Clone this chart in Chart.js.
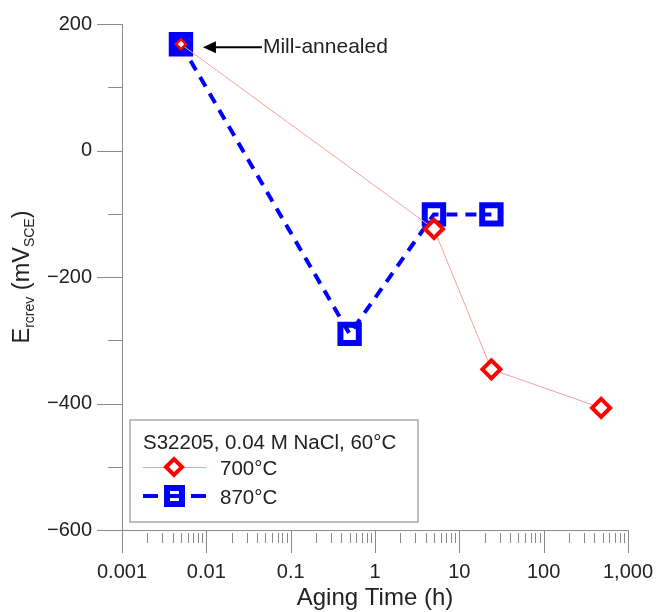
<!DOCTYPE html>
<html>
<head>
<meta charset="utf-8">
<script src="https://cdn.jsdelivr.net/npm/chart.js@4.4.1/dist/chart.umd.min.js"></script>
<style>
  html, body { margin: 0; padding: 0; background: #fff; }
  #wrap { width: 656px; height: 612px; }
</style>
</head>
<body>
<div id="wrap"><canvas id="chart" width="656" height="612"></canvas></div>
<script>
// --- data ---
const agingTime700 = [0.005, 5, 24, 480];
const ercrev700 = [168, -124, -346, -407];
const agingTime870 = [0.005, 0.5, 5, 24];
const ercrev870 = [168, -290, -101, -101];

const xTickValues = [0.001, 0.01, 0.1, 1, 10, 100, 1000];
const xTickLabels = ['0.001', '0.01', '0.1', '1', '10', '100', '1,000'];
const yTickValues = [-600, -400, -200, 0, 200];
const yTickLabels = ['\u2212600', '\u2212400', '\u2212200', '0', '200'];

const seriesNames = ['700°C', '870°C'];
const legendTitle = 'S32205, 0.04 M NaCl, 60°C';
const annotationText = 'Mill-annealed';
const xTitle = 'Aging Time (h)';

const FONT = '"Liberation Sans", Arial, Helvetica, sans-serif';
const TEXT = '#222';
const AXIS = '#8a8a8a';
const RED = '#ff0000';
const PINK = '#ff9c9c';
const BLUE = '#0000ff';

function toPoints(xs, ys) {
    return xs.map((x, i) => ({ x: x, y: ys[i] }));
}

// axes, tick marks, tick labels and titles
const axesPlugin = {
    id: 'axesPlugin',
    beforeDatasetsDraw(chart) {
        const ctx = chart.ctx;
        const xs = chart.scales.x;
        const ys = chart.scales.y;
        const area = chart.chartArea;
        ctx.save();
        ctx.strokeStyle = AXIS;
        ctx.lineWidth = 1;

        // axis lines
        ctx.beginPath();
        ctx.moveTo(area.left + 0.5, area.top);
        ctx.lineTo(area.left + 0.5, area.bottom);
        ctx.moveTo(area.left, area.bottom + 0.5);
        ctx.lineTo(area.right, area.bottom + 0.5);
        ctx.stroke();

        // y ticks
        ctx.beginPath();
        for (let v = -600; v <= 200; v += 100) {
            const py = Math.round(ys.getPixelForValue(v)) + 0.5;
            const len = (v % 200 === 0) ? 25 : 14;
            ctx.moveTo(area.left - len, py);
            ctx.lineTo(area.left, py);
        }
        // x ticks
        for (let d = 0; d < xTickValues.length; d++) {
            const dec = xTickValues[d];
            const px = Math.round(xs.getPixelForValue(dec)) + 0.5;
            ctx.moveTo(px, area.bottom);
            ctx.lineTo(px, area.bottom + 23);
            if (d < xTickValues.length - 1) {
                for (let k = 2; k <= 9; k++) {
                    const mx = Math.round(xs.getPixelForValue(k * dec)) + 0.5;
                    ctx.moveTo(mx, area.bottom + 3);
                    ctx.lineTo(mx, area.bottom + 13);
                }
            }
        }
        ctx.stroke();

        // tick labels
        ctx.fillStyle = TEXT;
        ctx.font = '20px ' + FONT;
        ctx.textAlign = 'right';
        ctx.textBaseline = 'middle';
        yTickValues.forEach((v, i) => {
            ctx.fillText(yTickLabels[i], area.left - 30, ys.getPixelForValue(v));
        });
        ctx.textAlign = 'center';
        ctx.textBaseline = 'alphabetic';
        xTickValues.forEach((v, i) => {
            ctx.fillText(xTickLabels[i], xs.getPixelForValue(v), area.bottom + 48);
        });

        // x title
        ctx.font = '24px ' + FONT;
        ctx.fillText(xTitle, (area.left + area.right) / 2, area.bottom + 75);

        // y title with subscripts, rotated
        const parts = [
            { t: 'E', size: 23.5, dy: 0 },
            { t: 'rcrev', size: 14, dy: 5 },
            { t: ' (mV', size: 23.5, dy: 0 },
            { t: 'SCE', size: 14, dy: 5 },
            { t: ')', size: 23.5, dy: 0 }
        ];
        let total = 0;
        parts.forEach(p => {
            ctx.font = p.size + 'px ' + FONT;
            p.w = ctx.measureText(p.t).width;
            total += p.w;
        });
        ctx.translate(29, (area.top + area.bottom) / 2);
        ctx.rotate(-Math.PI / 2);
        ctx.textAlign = 'left';
        let cx = -total / 2;
        parts.forEach(p => {
            ctx.font = p.size + 'px ' + FONT;
            ctx.fillText(p.t, cx, p.dy);
            cx += p.w;
        });
        ctx.restore();
    }
};

// legend box and the "Mill-annealed" arrow
const notesPlugin = {
    id: 'notesPlugin',
    afterDatasetsDraw(chart) {
        const ctx = chart.ctx;
        const xs = chart.scales.x;
        const ys = chart.scales.y;
        ctx.save();

        // arrow pointing at the mill-annealed point
        const ax = xs.getPixelForValue(agingTime870[0]) + 22;
        const ay = ys.getPixelForValue(ercrev870[0]) + 3;
        ctx.strokeStyle = '#000';
        ctx.fillStyle = '#000';
        ctx.lineWidth = 2;
        ctx.beginPath();
        ctx.moveTo(ax + 10, ay);
        ctx.lineTo(ax + 59, ay);
        ctx.stroke();
        ctx.beginPath();
        ctx.moveTo(ax, ay);
        ctx.lineTo(ax + 13, ay - 6);
        ctx.lineTo(ax + 13, ay + 6);
        ctx.closePath();
        ctx.fill();
        ctx.fillStyle = TEXT;
        ctx.font = '21px ' + FONT;
        ctx.textBaseline = 'middle';
        ctx.fillText(annotationText, ax + 60, ay);

        // legend
        const bx = 130, by = 420, bw = 288, bh = 102;
        ctx.fillStyle = '#fff';
        ctx.fillRect(bx, by, bw, bh);
        ctx.strokeStyle = '#aaa';
        ctx.lineWidth = 1.5;
        ctx.strokeRect(bx, by, bw, bh);

        ctx.fillStyle = TEXT;
        ctx.font = '20.5px ' + FONT;
        ctx.textBaseline = 'alphabetic';
        ctx.fillText(legendTitle, 143, 449);

        // 700°C entry
        let ly = 467;
        ctx.strokeStyle = PINK;
        ctx.lineWidth = 1;
        ctx.beginPath();
        ctx.moveTo(143, ly + 0.5);
        ctx.lineTo(206, ly + 0.5);
        ctx.stroke();
        ctx.strokeStyle = RED;
        ctx.fillStyle = '#fff';
        ctx.lineWidth = 4;
        ctx.beginPath();
        ctx.moveTo(174 - 8, ly);
        ctx.lineTo(174, ly - 8);
        ctx.lineTo(174 + 8, ly);
        ctx.lineTo(174, ly + 8);
        ctx.closePath();
        ctx.fill();
        ctx.stroke();
        ctx.fillStyle = TEXT;
        ctx.fillText(seriesNames[0], 220, ly + 8);

        // 870°C entry
        ly = 496;
        ctx.strokeStyle = BLUE;
        ctx.lineWidth = 4;
        ctx.beginPath();
        ctx.moveTo(143, ly);
        ctx.lineTo(158, ly);
        ctx.moveTo(191, ly);
        ctx.lineTo(206, ly);
        ctx.moveTo(166, ly);
        ctx.lineTo(182, ly);
        ctx.stroke();
        ctx.lineWidth = 6;
        ctx.strokeRect(167, ly - 8, 15, 16);
        ctx.fillStyle = TEXT;
        ctx.fillText(seriesNames[1], 220, ly + 8);

        ctx.restore();
    }
};

const ctx = document.getElementById('chart').getContext('2d');
new Chart(ctx, {
    type: 'scatter',
    data: {
        datasets: [
            {
                label: seriesNames[0],
                data: toPoints(agingTime700, ercrev700),
                showLine: true,
                borderColor: PINK,
                borderWidth: 1,
                pointStyle: 'rectRot',
                pointRadius: [5, 9, 9, 9],
                pointBorderWidth: [2.5, 4, 4, 4],
                pointBorderColor: RED,
                pointBackgroundColor: '#fff'
            },
            {
                label: seriesNames[1],
                data: toPoints(agingTime870, ercrev870),
                showLine: true,
                borderColor: BLUE,
                borderWidth: 4,
                borderDash: [11, 8],
                pointStyle: 'rect',
                pointRadius: 13,
                pointBorderWidth: 6,
                pointBorderColor: BLUE,
                pointBackgroundColor: [BLUE, 'rgba(0,0,0,0)', 'rgba(0,0,0,0)', 'rgba(0,0,0,0)']
            }
        ]
    },
    options: {
        responsive: false,
        devicePixelRatio: 1,
        animation: false,
        layout: { padding: { top: 24, right: 28, left: 0, bottom: 0 } },
        scales: {
            x: {
                type: 'logarithmic',
                min: 0.001,
                max: 1000,
                ticks: { display: false },
                grid: { display: false },
                border: { display: false },
                afterFit: s => { s.height = 82; }
            },
            y: {
                type: 'linear',
                min: -600,
                max: 200,
                ticks: { display: false },
                grid: { display: false },
                border: { display: false },
                afterFit: s => { s.width = 122; }
            }
        },
        plugins: {
            legend: { display: false },
            tooltip: { enabled: false }
        }
    },
    plugins: [axesPlugin, notesPlugin]
});
</script>
</body>
</html>
